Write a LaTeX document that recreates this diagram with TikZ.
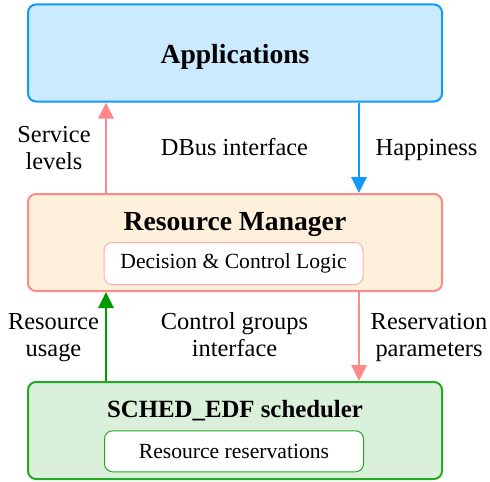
\documentclass[tikz,border=0pt]{standalone}
\usepackage{fontspec}
\setmainfont{Liberation Serif}
\usepackage{tikz}
\usetikzlibrary{positioning}
\usetikzlibrary{arrows.meta}
\definecolor{appsfill}{HTML}{CCEAFF}
\definecolor{appsline}{HTML}{1199FF}
\definecolor{rmfill}{HTML}{FFF0DC}
\definecolor{rmline}{HTML}{FF8888}
\definecolor{schedfill}{HTML}{DAF0DA}
\definecolor{schedline}{HTML}{22AA22}
\tikzset{layerbox/.style={ % Sets the properties for each layer
			draw,
			rounded corners=4pt,
			line width=1pt,
			minimum width=207pt,
			minimum height=48.5pt},
		innerbox/.style={draw, fill=white, rounded corners=4pt, line width=0.5pt,
			minimum width=129.5pt, minimum height=21pt,
			font=\fontsize{10.8pt}{13pt}\selectfont},
		boxtitle/.style={anchor=base, font=\fontsize{13.8pt}{16pt}\selectfont\bfseries},
		lbl/.style={align=center, font=\fontsize{12.2pt}{13.5pt}\selectfont},
		flow/.style={line width=1.4pt, -{Triangle[width=7.5pt,length=8pt]}}}

\begin{document}
\begin{tikzpicture}[x=0.5pt,y=-0.5pt]
			\useasboundingbox (0,0) rectangle (490,481);
			\node[layerbox, draw=appsline, fill=appsfill] (apps) at (235,53) {};
			\node[layerbox, draw=rmline, fill=rmfill] (rm) at (235,242.5) {};
			\node[layerbox, draw=schedline, fill=schedfill] (sched) at (235,430.5) {};
			
			\node[boxtitle] (appstitle) at (235,63) {Applications};
			\node[boxtitle] (rmtitle) at (235,230) {Resource Manager};
			\node[boxtitle, font=\fontsize{12.4pt}{15pt}\selectfont\bfseries] (schedtitle) at (235,417) {SCHED\_EDF scheduler};
			\node[innerbox, draw=rmline!70] (logic) at (233.5,263.5) {Decision \& Control Logic};
			\node[innerbox, draw=schedline, minimum height=20.5pt] (resv) at (234,451.3) {Resource reservations};
			
			\coordinate (lx) at (106,0);
			\coordinate (rx) at (359,0);
			\draw[flow, rmline] (rm.north -| lx) -- (apps.south -| lx);
			\draw[flow, appsline] (apps.south -| rx) -- (rm.north -| rx);
			\draw[flow, green!60!black] (sched.north -| lx) -- (rm.south -| lx);
			\draw[flow, rmline] (rm.south -| rx) -- (sched.north -| rx);
			
			\node[lbl] (service) at (54,148) {Service\\levels};
			\node[lbl, anchor=base] (dbus) at (234.5,155) {DBus interface};
			\node[lbl, anchor=base] (happy) at (426.5,155) {Happiness};
			\node[lbl] (usage) at (53.5,338) {Resource\\usage};
			\node[lbl] (cgroups) at (234.5,335) {Control groups\\interface};
			\node[lbl] (params) at (429,338) {Reservation\\parameters};
		\end{tikzpicture}
\end{document}
